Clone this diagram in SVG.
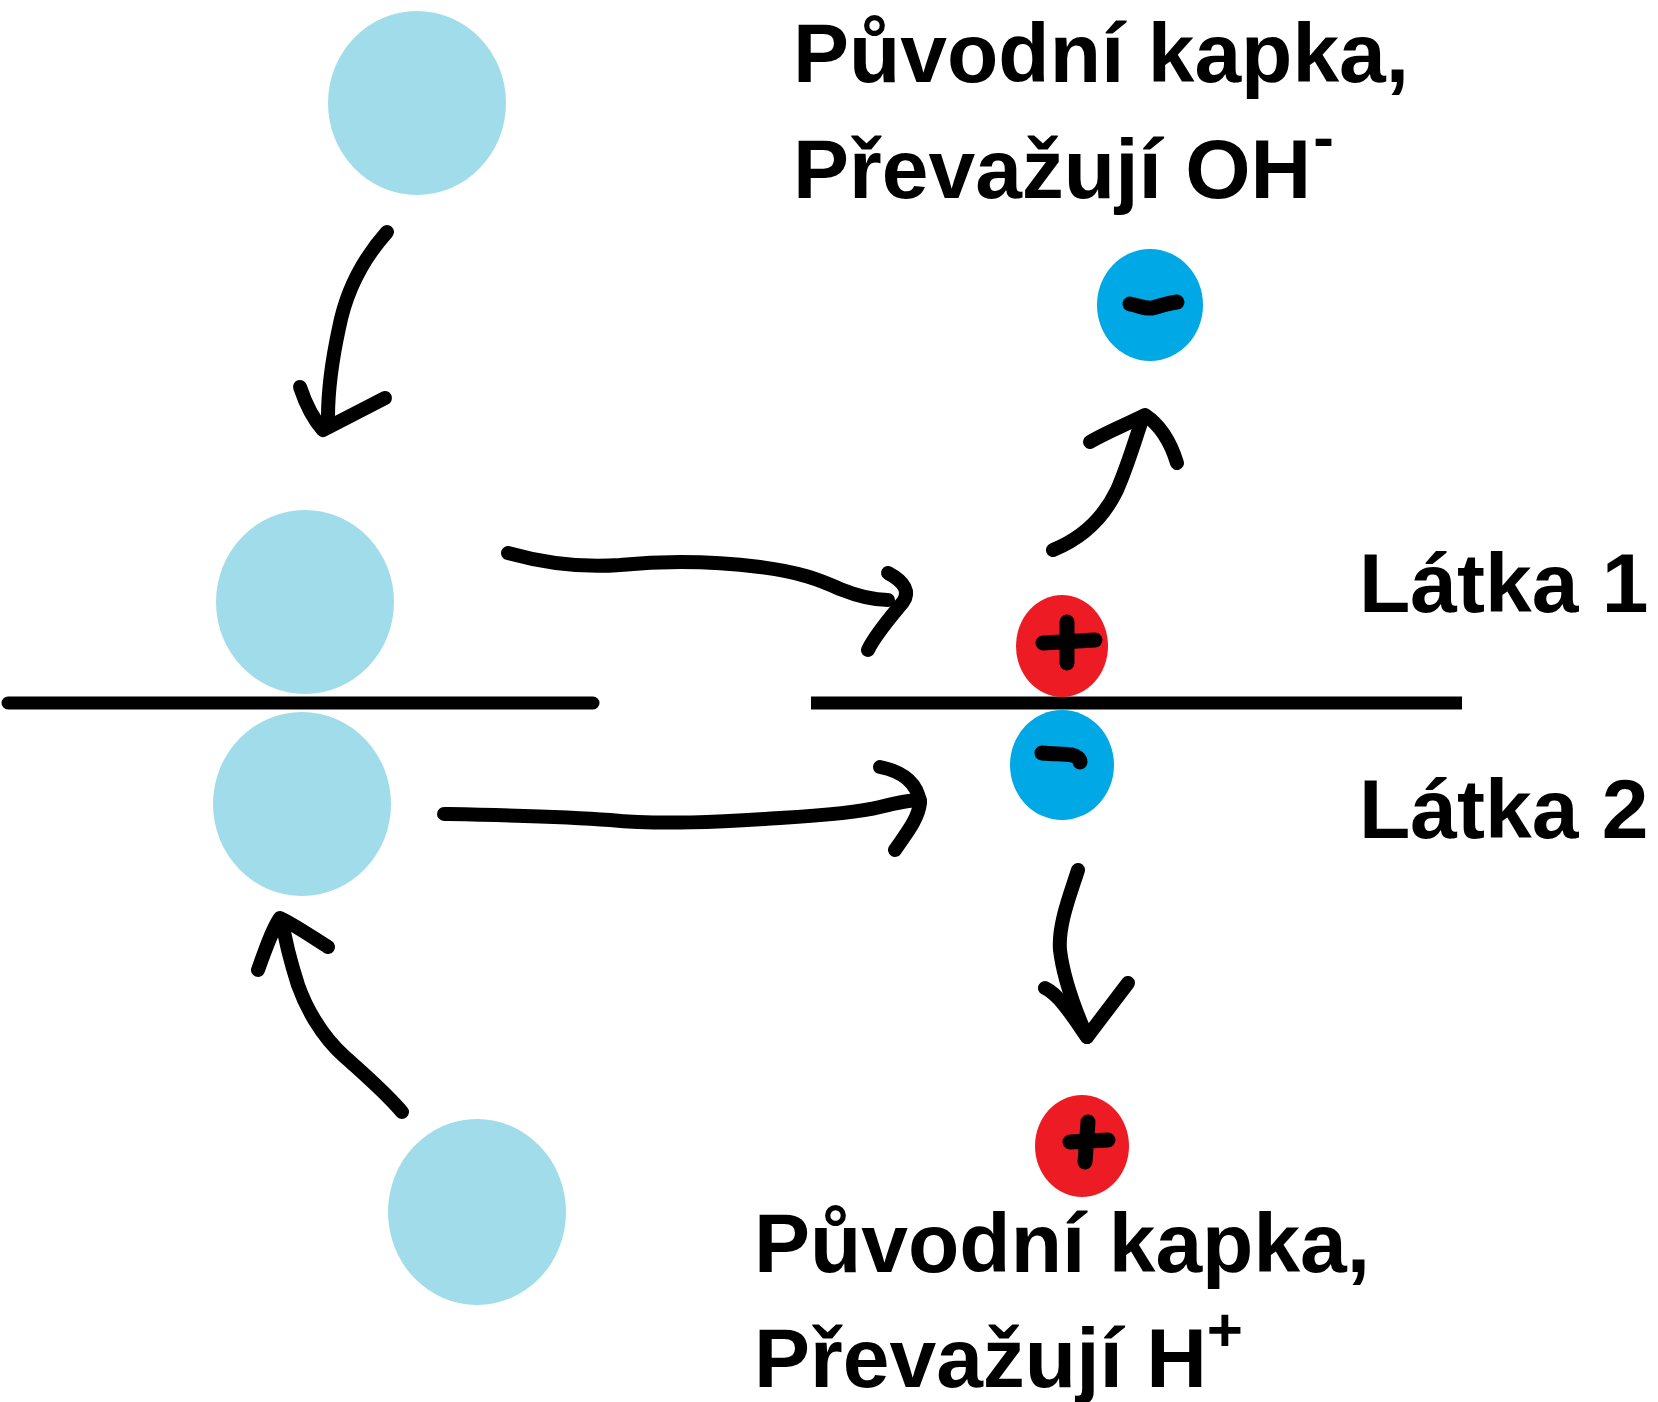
<svg xmlns="http://www.w3.org/2000/svg" width="1658" height="1402" viewBox="0 0 1658 1402">
  <style>
    .drop { fill: #A1DCEA; }
    .pos { fill: #ED1C24; }
    .neg { fill: #00A8E6; }
    .sign { fill: none; stroke: #000; stroke-width: 15; stroke-linecap: round; stroke-linejoin: round; }
    .stroke { fill: none; stroke: #000; stroke-width: 14; stroke-linecap: round; stroke-linejoin: round; }
    .label { font-family: "Liberation Sans", Arial, sans-serif; font-weight: bold; font-size: 84px; fill: #000; }
    .sup { font-size: 62px; }
  </style>
  <rect width="1658" height="1402" fill="#fff"/>

  <!-- droplets (left side) -->
  <g id="drop-top"><ellipse class="drop" cx="417" cy="103" rx="89" ry="92"/></g>
  <g id="drop-upper"><ellipse class="drop" cx="305" cy="602" rx="89" ry="92"/></g>
  <g id="drop-lower"><ellipse class="drop" cx="302" cy="804" rx="89" ry="92"/></g>
  <g id="drop-bottom"><ellipse class="drop" cx="477" cy="1212" rx="89" ry="93"/></g>

  <!-- interface between the two phases -->
  <g id="interface">
    <line x1="8" y1="703" x2="593" y2="703" stroke="#000" stroke-width="13" stroke-linecap="round"/>
    <line x1="811" y1="703" x2="1462" y2="703" stroke="#000" stroke-width="13"/>
  </g>

  <!-- ions (right side) -->
  <g id="ion-oh-top">
    <ellipse class="neg" cx="1150" cy="305" rx="53" ry="56"/>
    <path class="sign" d="M1130,304 C1140,306 1146,309 1152,308 C1160,306 1168,303 1177,302"/>
  </g>
  <g id="ion-plus-interface">
    <ellipse class="pos" cx="1062" cy="646" rx="46" ry="51"/>
    <path class="sign" d="M1067,622 L1067,663 M1043,643 L1095,640"/>
  </g>
  <g id="ion-minus-interface">
    <ellipse class="neg" cx="1062" cy="765" rx="52" ry="55"/>
    <path class="sign" d="M1042,753 C1055,754 1066,754 1072,755 C1077,756 1080,759 1080,762"/>
  </g>
  <g id="ion-h-bottom">
    <ellipse class="pos" cx="1082" cy="1146" rx="47" ry="51"/>
    <path class="sign" d="M1088,1122 L1085,1162 M1070,1142 L1108,1140"/>
  </g>

  <!-- hand-drawn arrows -->
  <g id="connectors">
    <path class="stroke" d="M387,232 C362,260 346,292 339,328 C331,365 328,395 328,417"/>
    <path class="stroke" d="M300,387 C306,405 314,420 323,430 L385,398"/>

    <path class="stroke" d="M508,553 C540,562 580,568 620,565 C670,560 720,562 760,567 C800,572 820,580 840,589 C860,597 875,600 888,600"/>
    <path class="stroke" d="M888,573 C905,582 910,592 903,602 C890,618 875,635 868,650"/>

    <path class="stroke" d="M444,814 C500,815 560,816 610,820 C660,825 720,822 780,818 C830,815 860,812 880,807 C900,802 910,800 920,800"/>
    <path class="stroke" d="M880,767 C905,772 918,785 920,803 C918,820 905,835 895,850"/>

    <path class="stroke" d="M1053,550 C1085,537 1105,515 1117,490 C1128,465 1135,440 1143,417"/>
    <path class="stroke" d="M1090,442 C1105,433 1125,425 1145,415 C1160,425 1170,440 1177,463"/>

    <path class="stroke" d="M1078,870 C1070,895 1058,925 1060,950 C1063,975 1073,1005 1087,1037"/>
    <path class="stroke" d="M1045,988 C1060,995 1075,1020 1087,1037 C1100,1020 1115,1000 1128,983"/>

    <path class="stroke" d="M402,1112 C385,1092 365,1075 345,1057 C320,1035 305,1005 298,985 C290,960 285,940 282,920"/>
    <path class="stroke" d="M258,970 C265,950 272,930 280,918 C295,925 312,937 328,947"/>
  </g>

  <!-- labels -->
  <g id="label-top">
    <text class="label" x="793" y="82">Původní kapka,</text>
    <text class="label" x="793" y="198">Převažují OH<tspan class="sup" dx="2" dy="-40">-</tspan></text>
  </g>
  <g id="label-phase1"><text class="label" x="1359" y="612">Látka 1</text></g>
  <g id="label-phase2"><text class="label" x="1359" y="838">Látka 2</text></g>
  <g id="label-bottom">
    <text class="label" x="754" y="1272">Původní kapka,</text>
    <text class="label" x="754" y="1387">Převažují H<tspan class="sup" dy="-36">+</tspan></text>
  </g>
</svg>
